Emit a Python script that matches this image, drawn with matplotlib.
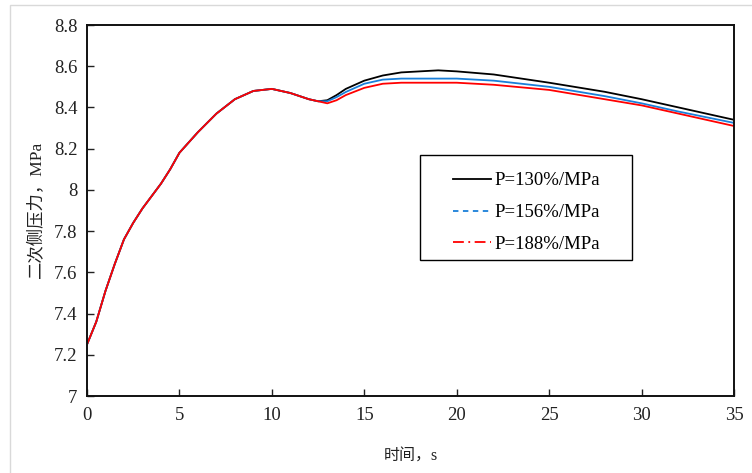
import numpy as np
import matplotlib.pyplot as plt
from matplotlib.patches import Rectangle
from matplotlib.lines import Line2D

# time axis, s
t = [0, 0.5, 1, 1.5, 2, 2.5, 3, 3.5, 4, 4.5, 5, 6, 7, 8, 9, 10, 11, 12, 12.5,
     13, 13.5, 14, 15, 16, 17, 18, 19, 20, 22, 25, 28, 30, 32, 35]

# shared rising part up to ~12.5 s
common = [7.25, 7.36, 7.51, 7.64, 7.76, 7.84, 7.91, 7.97, 8.03, 8.10, 8.18,
          8.28, 8.37, 8.44, 8.48, 8.49, 8.47, 8.44, 8.43]

p130 = common + [8.435, 8.46, 8.49, 8.53, 8.555, 8.57, 8.575, 8.58, 8.575,
                 8.56, 8.52, 8.476, 8.44, 8.40, 8.34]
p156 = common + [8.43, 8.45, 8.475, 8.515, 8.535, 8.54, 8.54, 8.54, 8.54,
                 8.53, 8.50, 8.455, 8.42, 8.38, 8.325]
p188 = common + [8.42, 8.435, 8.46, 8.495, 8.515, 8.52, 8.52, 8.52, 8.52,
                 8.51, 8.485, 8.44, 8.41, 8.37, 8.31]

labels = ['P=130%/MPa', 'P=156%/MPa', 'P=188%/MPa']
colors = ['black', '#1a7fd9', 'red']
styles = ['-', (0, (3, 2.5)), (0, (6, 2.5, 1, 2.5))]

serif = ['Liberation Serif', 'Noto Sans CJK SC']
plt.rcParams['font.family'] = serif
plt.rcParams['axes.unicode_minus'] = False

fig = plt.figure(figsize=(7.52, 4.73), dpi=100)
ax = fig.add_axes([87/752, 1-396/473, (734-87)/752, (396-25)/473])

# light frame around the picture
fig.patches.append(Rectangle((10/752, -0.01), 1.0, 1-5/473+0.01,
                             transform=fig.transFigure, fill=False,
                             edgecolor='#d9d9d9', lw=1.0))

for y, c in zip([p130, p156, p188], colors):
    ax.plot(t, y, color=c, lw=1.3)

ax.set_xlim(0, 35)
ax.set_ylim(7, 8.8)
ax.set_xticks(np.arange(0, 36, 5))
ax.set_yticks(np.arange(7, 8.81, 0.2))
ax.set_yticklabels(['7', '7.2', '7.4', '7.6', '7.8', '8', '8.2', '8.4', '8.6', '8.8'])
ax.tick_params(direction='in', length=5, width=1, labelsize=13.5, colors='#222222')
ax.tick_params(axis='x', pad=8)
ax.tick_params(axis='y', pad=7)
for s in ax.spines.values():
    s.set_linewidth(1.4)
    s.set_color('#111111')

ax.set_xlabel('时间，s', fontsize=11.5, labelpad=18, color='#222222')
ax.set_ylabel('二次侧压力，MPa', fontsize=12.5, labelpad=6, color='#222222')

# legend: frame drawn separately, entries without frame
ax.add_patch(Rectangle((0.5147, 0.3666), 0.3276, 0.283, transform=ax.transAxes,
                       fill=False, edgecolor='black', lw=1.0, zorder=5))
handles = [Line2D([], [], color=c, ls=s, lw=1.3) for c, s in zip(colors, styles)]
ax.legend(handles, labels, loc='upper left', bbox_to_anchor=(0.566, 0.603),
          fontsize=13.5, frameon=False, handlelength=2.0, labelspacing=0.78,
          borderpad=0, borderaxespad=0, handletextpad=0.2)

fig.savefig('out.png', dpi=100)
